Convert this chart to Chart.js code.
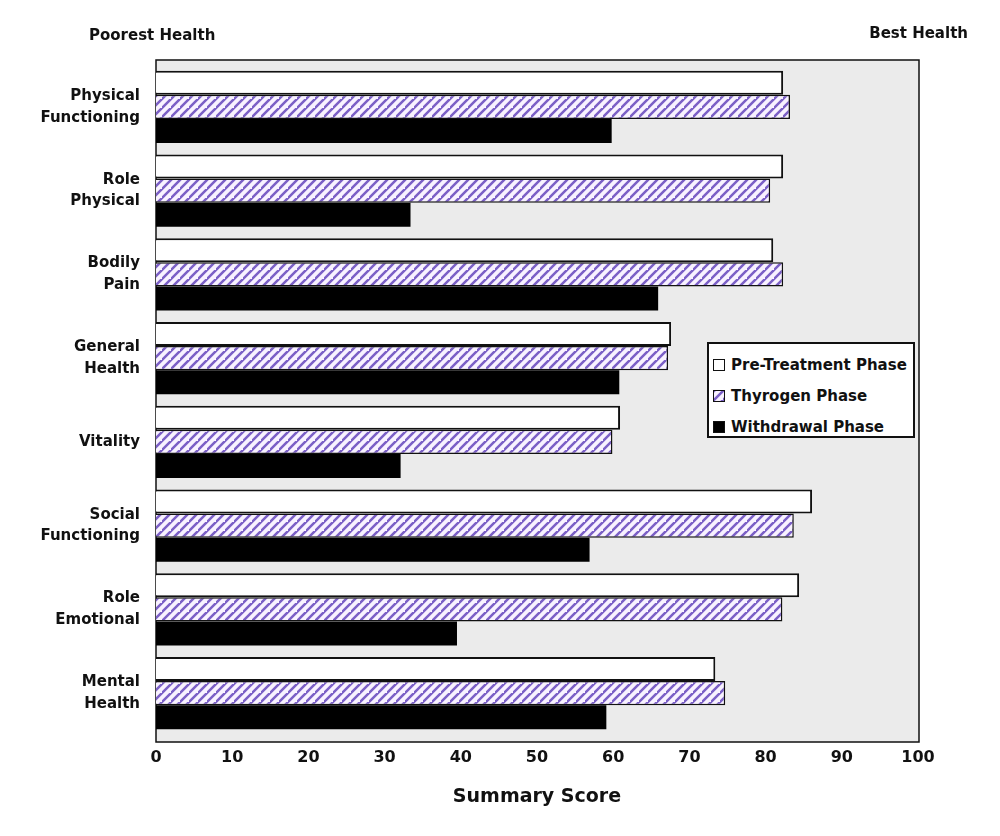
<!DOCTYPE html>
<html>
<head>
<meta charset="utf-8">
<script src="https://cdn.jsdelivr.net/npm/chart.js@4/dist/chart.umd.min.js"></script>
<style>
  body { margin: 0; background: #fff; font-family: "DejaVu Sans", sans-serif; }
  #wrap { position: relative; width: 1000px; height: 836px; }
  .top { position: absolute; font-weight: bold; font-size: 15px; color: #111; }
  #legend { position: absolute; left: 707px; top: 342px; width: 208px; height: 96px;
            background: #fff; border: 2px solid #111; box-sizing: border-box; padding: 5px 0 0 4px; }
  .item { display: flex; align-items: center; height: 31px; font-weight: bold; font-size: 15px; color: #111; }
  .sw { width: 10px; height: 10px; border: 1.5px solid #111; margin-right: 6px; }
</style>
</head>
<body>
<div id="wrap">
  <canvas id="chart" width="1000" height="836"></canvas>
  <div class="top" style="left:89px; top:26px;">Poorest Health</div>
  <div class="top" style="right:32px; top:24px;">Best Health</div>
  <div id="legend">
    <div class="item"><span class="sw" style="background:#fff"></span>Pre-Treatment Phase</div>
    <div class="item"><span class="sw" id="swHatch"></span>Thyrogen Phase</div>
    <div class="item"><span class="sw" style="background:#000"></span>Withdrawal Phase</div>
  </div>
</div>
<script>
const categories = [
    ["Physical", "Functioning"],
    ["Role", "Physical"],
    ["Bodily", "Pain"],
    ["General", "Health"],
    "Vitality",
    ["Social", "Functioning"],
    ["Role", "Emotional"],
    ["Mental", "Health"]
];
const preTreatment = [82.3, 82.3, 81.0, 67.6, 60.9, 86.1, 84.4, 73.4];
const thyrogen = [83.2, 80.6, 82.3, 67.2, 59.9, 83.7, 82.2, 74.7];
const withdrawal = [59.8, 33.4, 65.9, 60.8, 32.1, 56.9, 39.5, 59.1];
const xTicks = [0, 10, 20, 30, 40, 50, 60, 70, 80, 90, 100];

// diagonal purple hatch used for the Thyrogen bars
function makeHatch() {
    const s = 9;
    const c = document.createElement('canvas');
    c.width = s; c.height = s;
    const g = c.getContext('2d');
    g.fillStyle = '#f8f2ff';
    g.fillRect(0, 0, s, s);
    g.strokeStyle = '#7b60c6';
    g.lineWidth = 2.5;
    g.beginPath();
    g.moveTo(-2, s + 2); g.lineTo(s + 2, -2);
    g.moveTo(-s - 2, s + 2); g.lineTo(2, -2);
    g.moveTo(s - 2, 2 * s + 2); g.lineTo(2 * s + 2, s - 2);
    g.stroke();
    return c;
}
const hatchCanvas = makeHatch();
const hatch = document.getElementById('chart').getContext('2d').createPattern(hatchCanvas, 'repeat');
document.getElementById('swHatch').style.background = 'url(' + hatchCanvas.toDataURL() + ')';

// grey plot box behind the bars
const plotBox = {
    id: 'plotBox',
    beforeDatasetsDraw(chart) {
        const { ctx, chartArea: a } = chart;
        ctx.save();
        ctx.fillStyle = '#ebebeb';
        ctx.fillRect(a.left, a.top - 5, a.right - a.left + 1, a.bottom - a.top + 12);
        ctx.strokeStyle = '#111';
        ctx.lineWidth = 1.5;
        ctx.strokeRect(a.left, a.top - 5, a.right - a.left + 1, a.bottom - a.top + 12);
        ctx.restore();
    }
};

const font = { family: "'DejaVu Sans', sans-serif", weight: 'bold' };

new Chart(document.getElementById('chart'), {
    type: 'bar',
    data: {
        labels: categories,
        datasets: [
            { label: 'Pre-Treatment Phase', data: preTreatment, backgroundColor: '#fff', borderColor: '#111', borderWidth: 2 },
            { label: 'Thyrogen Phase', data: thyrogen, backgroundColor: hatch, borderColor: '#111', borderWidth: 1.5 },
            { label: 'Withdrawal Phase', data: withdrawal, backgroundColor: '#000', borderColor: '#000', borderWidth: 0 }
        ]
    },
    options: {
        indexAxis: 'y',
        responsive: false,
        animation: false,
        categoryPercentage: 0.86,
        barPercentage: 1.0,
        layout: { padding: { top: 65, right: 82, left: 0, bottom: 28 } },
        plugins: { legend: { display: false }, tooltip: { enabled: false } },
        scales: {
            x: {
                min: 0, max: 100,
                afterBuildTicks(axis) { axis.ticks = xTicks.map(v => ({ value: v })); },
                afterFit(axis) { axis.height = 73; },
                grid: { display: false, drawTicks: false },
                border: { display: false },
                ticks: { padding: 13, color: '#111', font: { ...font, size: 16 } },
                title: { display: true, text: 'Summary Score', color: '#111',
                         font: { ...font, size: 19 }, padding: { top: 16, bottom: 0 } }
            },
            y: {
                afterFit(axis) { axis.width = 156; },
                grid: { display: false, drawTicks: false },
                border: { display: false },
                ticks: { padding: 16, color: '#111', font: { ...font, size: 15, lineHeight: 1.45 } }
            }
        }
    },
    plugins: [plotBox]
});
</script>
</body>
</html>
